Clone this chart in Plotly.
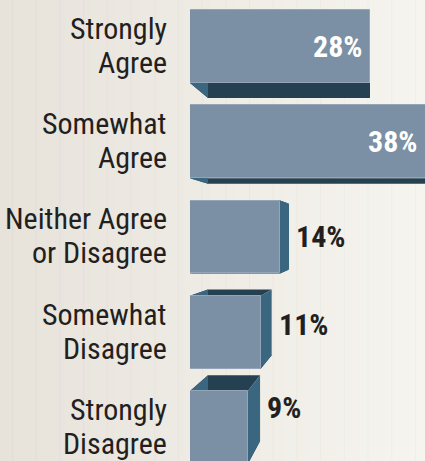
import plotly.graph_objects as go

# ---- data ----
label_line1 = ["Strongly", "Somewhat", "Neither Agree", "Somewhat", "Strongly"]
label_line2 = ["Agree", "Agree", "or Disagree", "Disagree", "Disagree"]
values = [28, 38, 14, 11, 9]
value_labels = ["28%", "38%", "14%", "11%", "9%"]
positions = [0, 1, 2, 3, 4]

# ---- style ----
FRONT = "#7b90a4"
EDGE = "#93a5b6"
DARK = "#244051"
SIDE = "#3b6680"
TEXT = "#231f20"
FONT = "Roboto Condensed, Liberation Sans Narrow, sans-serif"
W, H = 425, 461
ML = 190
PW = W - ML
XMAX = 36.55
YR = [4.352, -0.488]
BW = 0.766
VP = (28.0, 1.97)   # perspective vanishing point (data coords)
K = 0.1             # extrusion depth factor
INSIDE = [True, True, False, False, False]
VAL_YSHIFT = [0, 0, 0, 8, 20]

fig = go.Figure()
fig.add_trace(go.Bar(
    x=values, y=positions, orientation="h", width=BW,
    marker=dict(color=FRONT, line=dict(color=EDGE, width=1)),
    hoverinfo="skip", showlegend=False,
))

shapes = []
# background gradient (paper coords span whole figure)
x_left = -ML / PW
c0 = (231, 227, 219)
c1 = (246, 244, 239)
n = 85
for i in range(n):
    t = i / (n - 1)
    c = tuple(int(round(c0[j] + (c1[j] - c0[j]) * t)) for j in range(3))
    xa = x_left + (1 - x_left) * i / n
    xb = x_left + (1 - x_left) * (i + 1) / n + 0.002
    shapes.append(dict(type="rect", xref="paper", yref="paper", x0=xa, x1=xb,
                       y0=0, y1=1, fillcolor="rgb(%d,%d,%d)" % c,
                       line=dict(width=0), layer="below"))
# faint vertical texture lines
px = 12.5
while px < W:
    xp = (px - ML) / PW
    shapes.append(dict(type="line", xref="paper", yref="paper", x0=xp, x1=xp,
                       y0=0, y1=1, line=dict(color="rgba(120,110,95,0.045)", width=1),
                       layer="below"))
    px += 23.7


def back(p):
    return (p[0] + K * (VP[0] - p[0]), p[1] + K * (VP[1] - p[1]))


def path(pts):
    return "M " + " L ".join("%.4f,%.4f" % p for p in pts) + " Z"


for v, y in zip(values, positions):
    tl = (0, y - BW / 2)
    tr = (v, y - BW / 2)
    br = (v, y + BW / 2)
    bl = (0, y + BW / 2)
    faces = [
        ([tl, tr, back(tr), back(tl)], DARK),
        ([bl, br, back(br), back(bl)], DARK),
        ([tr, br, back(br), back(tr)], SIDE),
        ([tl, bl, back(bl), back(tl)], SIDE),
    ]
    for pts, col in faces:
        shapes.append(dict(type="path", xref="x", yref="y", path=path(pts),
                           fillcolor=col, line=dict(width=0), layer="below"))

annotations = []
lab_x = (169 - ML) / PW
for l1, l2, y in zip(label_line1, label_line2, positions):
    annotations.append(dict(text=l1, xref="paper", yref="y", x=lab_x, y=y,
                            xanchor="right", yanchor="middle", yshift=18,
                            showarrow=False, font=dict(family=FONT, size=30, color=TEXT)))
    annotations.append(dict(text=l2, xref="paper", yref="y", x=lab_x, y=y,
                            xanchor="right", yanchor="middle", yshift=-16,
                            showarrow=False, font=dict(family=FONT, size=30, color=TEXT)))

for v, y, lab, ins, ys in zip(values, positions, value_labels, INSIDE, VAL_YSHIFT):
    if ins:
        xin = min(v, XMAX)
        annotations.append(dict(text="<b>%s</b>" % lab, xref="x", yref="y", x=xin, y=y,
                                xanchor="right", yanchor="middle", xshift=-6, yshift=ys,
                                showarrow=False, font=dict(family=FONT, size=30, color="white")))
    else:
        xb = v + K * (VP[0] - v)
        annotations.append(dict(text="<b>%s</b>" % lab, xref="x", yref="y", x=xb, y=y,
                                xanchor="left", yanchor="middle", xshift=5, yshift=ys,
                                showarrow=False, font=dict(family=FONT, size=30, color=TEXT)))

fig.update_layout(
    width=W, height=H,
    margin=dict(l=ML, r=0, t=0, b=0, pad=0),
    paper_bgcolor="rgb(239,236,230)",
    plot_bgcolor="rgba(0,0,0,0)",
    xaxis=dict(range=[0, XMAX], visible=False, showgrid=False, zeroline=False, fixedrange=True),
    yaxis=dict(range=YR, visible=False, showgrid=False, zeroline=False, fixedrange=True),
    shapes=shapes,
    annotations=annotations,
    showlegend=False,
    bargap=0,
)

fig.write_html("out.html", config={"displayModeBar": False},
               post_script="document.body.style.margin='0';document.body.style.overflow='hidden';")
